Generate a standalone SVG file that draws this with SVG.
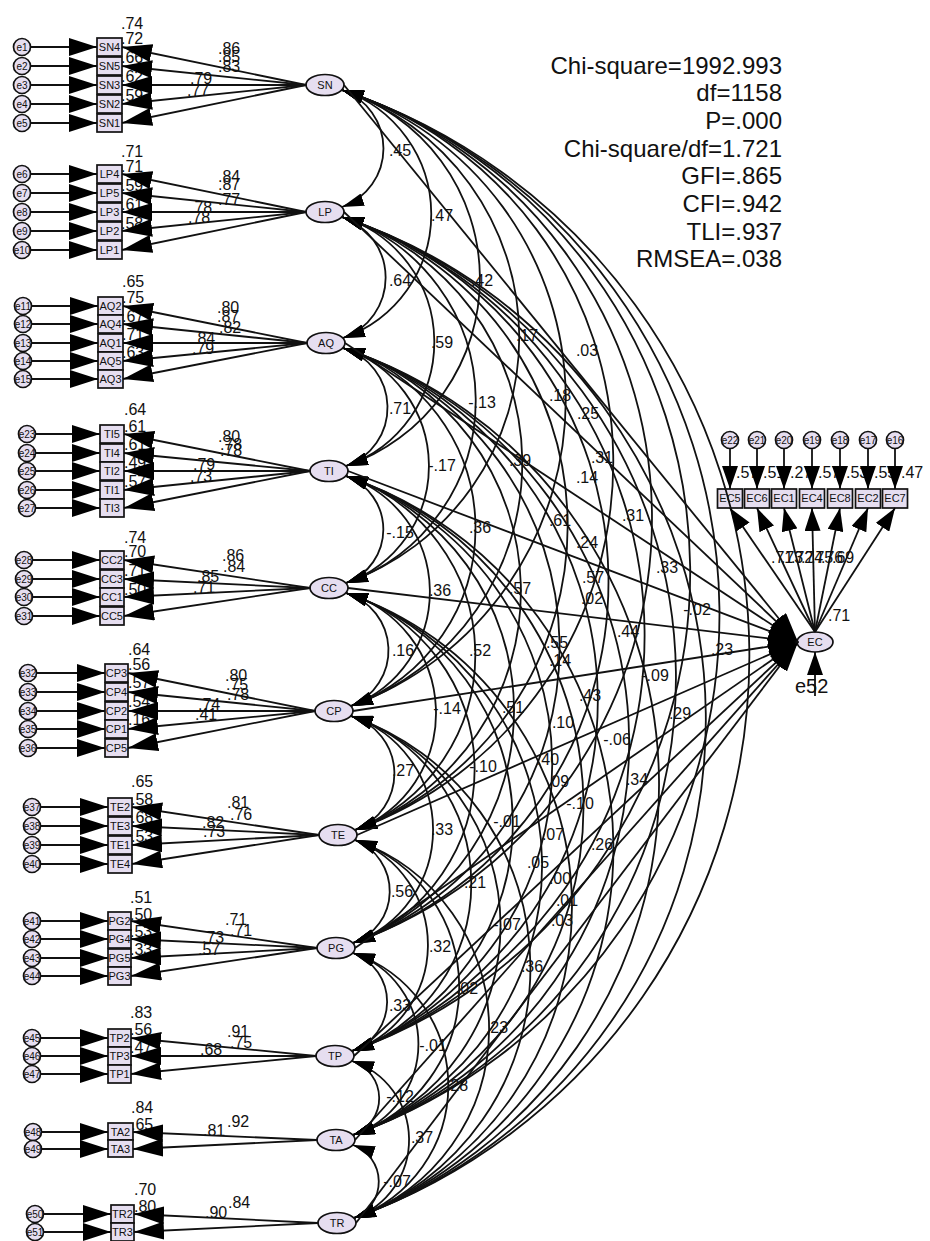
<svg xmlns="http://www.w3.org/2000/svg" width="930" height="1241" viewBox="0 0 930 1241">
<style>
.n{fill:#E6DEF0;stroke:#111;stroke-width:1.7}
text{font-family:"Liberation Sans",Arial,sans-serif;fill:#111}
.nl{font-size:11px;text-anchor:middle}
.el{font-size:10px;text-anchor:middle}
.v{font-size:16px}
.m{font-size:16px;text-anchor:middle}
.fit{font-size:24px;text-anchor:end}
.ln{fill:none;stroke:#111;stroke-width:1.8}
.hd{fill:#000;stroke:none}
</style>
<defs>
<marker id="ai" markerUnits="userSpaceOnUse" markerWidth="28" markerHeight="18" refX="28" refY="9" orient="auto"><path class="hd" d="M0,0L28,9L0,18z"/></marker>
<marker id="af" markerUnits="userSpaceOnUse" markerWidth="30" markerHeight="18" refX="30" refY="9" orient="auto"><path class="hd" d="M0,0L30,9L0,18z"/></marker>
<marker id="ac" markerUnits="userSpaceOnUse" markerWidth="22" markerHeight="13" refX="22" refY="6.5" orient="auto-start-reverse"><path class="hd" d="M0,0L22,6.5L0,13z"/></marker>
<marker id="ae" markerUnits="userSpaceOnUse" markerWidth="30" markerHeight="18" refX="30" refY="9" orient="auto"><path class="hd" d="M0,0L30,9L0,18z"/></marker>
<marker id="av" markerUnits="userSpaceOnUse" markerWidth="23" markerHeight="16" refX="23" refY="8" orient="auto"><path class="hd" d="M0,0L23,8L0,16z"/></marker>
</defs>
<rect width="930" height="1241" fill="#fff"/>

<g id="fit-indices">
<text class="fit" x="782" y="74">Chi-square=1992.993</text>
<text class="fit" x="782" y="101">df=1158</text>
<text class="fit" x="782" y="129">P=.000</text>
<text class="fit" x="782" y="157">Chi-square/df=1.721</text>
<text class="fit" x="782" y="184">GFI=.865</text>
<text class="fit" x="782" y="212">CFI=.942</text>
<text class="fit" x="782" y="240">TLI=.937</text>
<text class="fit" x="782" y="267">RMSEA=.038</text>
</g>

<g id="smc-labels" class="v">
<text x="121" y="29">.74</text><text x="121" y="44">.72</text><text x="121" y="63">.66</text><text x="121" y="82">.62</text><text x="121" y="101">.59</text>
<text x="121" y="157">.71</text><text x="121" y="172">.71</text><text x="121" y="191">.59</text><text x="121" y="210">.61</text><text x="121" y="229">.58</text>
<text x="122" y="287">.65</text><text x="122" y="303">.75</text><text x="122" y="322">.67</text><text x="122" y="340">.71</text><text x="122" y="358">.63</text>
<text x="124" y="415">.64</text><text x="124" y="432">.61</text><text x="124" y="450">.61</text><text x="124" y="468">.49</text><text x="124" y="487">.57</text>
<text x="124" y="543">.74</text><text x="124" y="557">.70</text><text x="124" y="576">.71</text><text x="124" y="595">.50</text>
<text x="128" y="655">.64</text><text x="128" y="670">.56</text><text x="128" y="688">.57</text><text x="128" y="707">.54</text><text x="128" y="725">.16</text>
<text x="131" y="787">.65</text><text x="131" y="805">.58</text><text x="131" y="823">.68</text><text x="131" y="842">.53</text>
<text x="130" y="903">.51</text><text x="130" y="920">.50</text><text x="130" y="937">.53</text><text x="130" y="955">.33</text>
<text x="130" y="1018">.83</text><text x="130" y="1035">.56</text><text x="130" y="1053">.47</text>
<text x="131" y="1113">.84</text><text x="131" y="1130">.65</text>
<text x="134" y="1195">.70</text><text x="134" y="1212">.80</text>
<text x="736" y="478">.57</text><text x="763" y="478">.51</text><text x="790" y="478">.27</text><text x="818" y="478">.57</text><text x="846" y="478">.53</text><text x="874" y="478">.55</text><text x="901" y="478">.47</text>
</g>

<g id="nodes">
<g id="SN"><ellipse class="n" cx="325" cy="85" rx="19" ry="10.5"/><text class="nl" x="325" y="89">SN</text></g>
<g id="LP"><ellipse class="n" cx="325" cy="212" rx="19" ry="10.5"/><text class="nl" x="325" y="216">LP</text></g>
<g id="AQ"><ellipse class="n" cx="326" cy="343" rx="19" ry="10.5"/><text class="nl" x="326" y="347">AQ</text></g>
<g id="TI"><ellipse class="n" cx="329" cy="471" rx="19" ry="10.5"/><text class="nl" x="329" y="475">TI</text></g>
<g id="CC"><ellipse class="n" cx="329" cy="588" rx="19" ry="10.5"/><text class="nl" x="329" y="592">CC</text></g>
<g id="CP"><ellipse class="n" cx="334" cy="711" rx="19" ry="10.5"/><text class="nl" x="334" y="715">CP</text></g>
<g id="TE"><ellipse class="n" cx="338" cy="835" rx="19" ry="10.5"/><text class="nl" x="338" y="839">TE</text></g>
<g id="PG"><ellipse class="n" cx="336" cy="948" rx="19" ry="10.5"/><text class="nl" x="336" y="952">PG</text></g>
<g id="TP"><ellipse class="n" cx="335" cy="1056" rx="19" ry="10.5"/><text class="nl" x="335" y="1060">TP</text></g>
<g id="TA"><ellipse class="n" cx="336" cy="1140" rx="19" ry="10.5"/><text class="nl" x="336" y="1144">TA</text></g>
<g id="TR"><ellipse class="n" cx="337" cy="1223" rx="19" ry="10.5"/><text class="nl" x="337" y="1227">TR</text></g>
<g id="EC"><ellipse class="n" cx="815" cy="642" rx="18" ry="10"/><text class="nl" x="815" y="646">EC</text></g>

<g id="SN4"><rect class="n" x="97" y="38" width="25" height="18"/><text class="nl" x="109.5" y="51">SN4</text></g>
<g id="SN5"><rect class="n" x="97" y="57" width="25" height="18"/><text class="nl" x="109.5" y="70">SN5</text></g>
<g id="SN3"><rect class="n" x="97" y="76" width="25" height="18"/><text class="nl" x="109.5" y="89">SN3</text></g>
<g id="SN2"><rect class="n" x="97" y="95" width="25" height="18"/><text class="nl" x="109.5" y="108">SN2</text></g>
<g id="SN1"><rect class="n" x="97" y="114" width="25" height="18"/><text class="nl" x="109.5" y="127">SN1</text></g>
<g id="LP4"><rect class="n" x="97" y="165" width="25" height="18"/><text class="nl" x="109.5" y="178">LP4</text></g>
<g id="LP5"><rect class="n" x="97" y="184" width="25" height="18"/><text class="nl" x="109.5" y="197">LP5</text></g>
<g id="LP3"><rect class="n" x="97" y="203" width="25" height="18"/><text class="nl" x="109.5" y="216">LP3</text></g>
<g id="LP2"><rect class="n" x="97" y="222" width="25" height="18"/><text class="nl" x="109.5" y="235">LP2</text></g>
<g id="LP1"><rect class="n" x="97" y="241" width="25" height="18"/><text class="nl" x="109.5" y="254">LP1</text></g>
<g id="AQ2"><rect class="n" x="98" y="297" width="25" height="18"/><text class="nl" x="110.5" y="310">AQ2</text></g>
<g id="AQ4"><rect class="n" x="98" y="315" width="25" height="18"/><text class="nl" x="110.5" y="328">AQ4</text></g>
<g id="AQ1"><rect class="n" x="98" y="334" width="25" height="18"/><text class="nl" x="110.5" y="347">AQ1</text></g>
<g id="AQ5"><rect class="n" x="98" y="352" width="25" height="18"/><text class="nl" x="110.5" y="365">AQ5</text></g>
<g id="AQ3"><rect class="n" x="98" y="370" width="25" height="18"/><text class="nl" x="110.5" y="383">AQ3</text></g>
<g id="TI5"><rect class="n" x="100" y="425" width="24" height="18"/><text class="nl" x="112" y="438">TI5</text></g>
<g id="TI4"><rect class="n" x="100" y="444" width="24" height="18"/><text class="nl" x="112" y="457">TI4</text></g>
<g id="TI2"><rect class="n" x="100" y="462" width="24" height="18"/><text class="nl" x="112" y="475">TI2</text></g>
<g id="TI1"><rect class="n" x="100" y="481" width="24" height="18"/><text class="nl" x="112" y="494">TI1</text></g>
<g id="TI3"><rect class="n" x="100" y="499" width="24" height="18"/><text class="nl" x="112" y="512">TI3</text></g>
<g id="CC2"><rect class="n" x="100" y="551" width="24" height="18"/><text class="nl" x="112" y="564">CC2</text></g>
<g id="CC3"><rect class="n" x="100" y="570" width="24" height="18"/><text class="nl" x="112" y="583">CC3</text></g>
<g id="CC1"><rect class="n" x="100" y="588" width="24" height="18"/><text class="nl" x="112" y="601">CC1</text></g>
<g id="CC5"><rect class="n" x="100" y="607" width="24" height="18"/><text class="nl" x="112" y="620">CC5</text></g>
<g id="CP3"><rect class="n" x="105" y="664" width="23" height="18"/><text class="nl" x="116.5" y="677">CP3</text></g>
<g id="CP4"><rect class="n" x="105" y="683" width="23" height="18"/><text class="nl" x="116.5" y="696">CP4</text></g>
<g id="CP2"><rect class="n" x="105" y="702" width="23" height="18"/><text class="nl" x="116.5" y="715">CP2</text></g>
<g id="CP1"><rect class="n" x="105" y="720" width="23" height="18"/><text class="nl" x="116.5" y="733">CP1</text></g>
<g id="CP5"><rect class="n" x="105" y="739" width="23" height="18"/><text class="nl" x="116.5" y="752">CP5</text></g>
<g id="TE2"><rect class="n" x="108" y="798" width="24" height="18"/><text class="nl" x="120" y="811">TE2</text></g>
<g id="TE3"><rect class="n" x="108" y="817" width="24" height="18"/><text class="nl" x="120" y="830">TE3</text></g>
<g id="TE1"><rect class="n" x="108" y="836" width="24" height="18"/><text class="nl" x="120" y="849">TE1</text></g>
<g id="TE4"><rect class="n" x="108" y="855" width="24" height="18"/><text class="nl" x="120" y="868">TE4</text></g>
<g id="PG2"><rect class="n" x="108" y="912" width="23" height="18"/><text class="nl" x="119.5" y="925">PG2</text></g>
<g id="PG4"><rect class="n" x="108" y="930" width="23" height="18"/><text class="nl" x="119.5" y="943">PG4</text></g>
<g id="PG5"><rect class="n" x="108" y="949" width="23" height="18"/><text class="nl" x="119.5" y="962">PG5</text></g>
<g id="PG3"><rect class="n" x="108" y="967" width="23" height="18"/><text class="nl" x="119.5" y="980">PG3</text></g>
<g id="TP2"><rect class="n" x="108" y="1029" width="23" height="18"/><text class="nl" x="119.5" y="1042">TP2</text></g>
<g id="TP3"><rect class="n" x="108" y="1047" width="23" height="18"/><text class="nl" x="119.5" y="1060">TP3</text></g>
<g id="TP1"><rect class="n" x="108" y="1065" width="23" height="18"/><text class="nl" x="119.5" y="1078">TP1</text></g>
<g id="TA2"><rect class="n" x="108" y="1123" width="25" height="17"/><text class="nl" x="120.5" y="1136">TA2</text></g>
<g id="TA3"><rect class="n" x="108" y="1140" width="25" height="17"/><text class="nl" x="120.5" y="1153">TA3</text></g>
<g id="TR2"><rect class="n" x="111" y="1205" width="23" height="18"/><text class="nl" x="122.5" y="1218">TR2</text></g>
<g id="TR3"><rect class="n" x="111" y="1223" width="23" height="18"/><text class="nl" x="122.5" y="1236">TR3</text></g>

<g id="EC5"><rect class="n" x="717.5" y="489" width="25" height="19"/><text class="nl" x="730" y="502">EC5</text></g>
<g id="EC6"><rect class="n" x="744.5" y="489" width="25" height="19"/><text class="nl" x="757" y="502">EC6</text></g>
<g id="EC1"><rect class="n" x="771.5" y="489" width="25" height="19"/><text class="nl" x="784" y="502">EC1</text></g>
<g id="EC4"><rect class="n" x="799.5" y="489" width="25" height="19"/><text class="nl" x="812" y="502">EC4</text></g>
<g id="EC8"><rect class="n" x="827.5" y="489" width="25" height="19"/><text class="nl" x="840" y="502">EC8</text></g>
<g id="EC2"><rect class="n" x="855.5" y="489" width="25" height="19"/><text class="nl" x="868" y="502">EC2</text></g>
<g id="EC7"><rect class="n" x="882.5" y="489" width="25" height="19"/><text class="nl" x="895" y="502">EC7</text></g>

<g id="e1"><circle class="n" cx="22" cy="47" r="8.5"/><text class="el" x="22" y="50.5">e1</text></g>
<g id="e2"><circle class="n" cx="22" cy="66" r="8.5"/><text class="el" x="22" y="69.5">e2</text></g>
<g id="e3"><circle class="n" cx="22" cy="85" r="8.5"/><text class="el" x="22" y="88.5">e3</text></g>
<g id="e4"><circle class="n" cx="22" cy="104" r="8.5"/><text class="el" x="22" y="107.5">e4</text></g>
<g id="e5"><circle class="n" cx="22" cy="123" r="8.5"/><text class="el" x="22" y="126.5">e5</text></g>
<g id="e6"><circle class="n" cx="22" cy="174" r="8.5"/><text class="el" x="22" y="177.5">e6</text></g>
<g id="e7"><circle class="n" cx="22" cy="193" r="8.5"/><text class="el" x="22" y="196.5">e7</text></g>
<g id="e8"><circle class="n" cx="22" cy="212" r="8.5"/><text class="el" x="22" y="215.5">e8</text></g>
<g id="e9"><circle class="n" cx="22" cy="231" r="8.5"/><text class="el" x="22" y="234.5">e9</text></g>
<g id="e10"><circle class="n" cx="22" cy="250" r="8.5"/><text class="el" x="22" y="253.5">e10</text></g>
<g id="e11"><circle class="n" cx="23" cy="306" r="8.5"/><text class="el" x="23" y="309.5">e11</text></g>
<g id="e12"><circle class="n" cx="23" cy="324" r="8.5"/><text class="el" x="23" y="327.5">e12</text></g>
<g id="e13"><circle class="n" cx="23" cy="343" r="8.5"/><text class="el" x="23" y="346.5">e13</text></g>
<g id="e14"><circle class="n" cx="23" cy="361" r="8.5"/><text class="el" x="23" y="364.5">e14</text></g>
<g id="e15"><circle class="n" cx="23" cy="379" r="8.5"/><text class="el" x="23" y="382.5">e15</text></g>
<g id="e23"><circle class="n" cx="27" cy="434" r="8.5"/><text class="el" x="27" y="437.5">e23</text></g>
<g id="e24"><circle class="n" cx="27" cy="453" r="8.5"/><text class="el" x="27" y="456.5">e24</text></g>
<g id="e25"><circle class="n" cx="27" cy="471" r="8.5"/><text class="el" x="27" y="474.5">e25</text></g>
<g id="e26"><circle class="n" cx="27" cy="490" r="8.5"/><text class="el" x="27" y="493.5">e26</text></g>
<g id="e27"><circle class="n" cx="27" cy="508" r="8.5"/><text class="el" x="27" y="511.5">e27</text></g>
<g id="e28"><circle class="n" cx="24" cy="560" r="8.5"/><text class="el" x="24" y="563.5">e28</text></g>
<g id="e29"><circle class="n" cx="24" cy="579" r="8.5"/><text class="el" x="24" y="582.5">e29</text></g>
<g id="e30"><circle class="n" cx="24" cy="597" r="8.5"/><text class="el" x="24" y="600.5">e30</text></g>
<g id="e31"><circle class="n" cx="24" cy="616" r="8.5"/><text class="el" x="24" y="619.5">e31</text></g>
<g id="e32"><circle class="n" cx="28" cy="673" r="8.5"/><text class="el" x="28" y="676.5">e32</text></g>
<g id="e33"><circle class="n" cx="28" cy="692" r="8.5"/><text class="el" x="28" y="695.5">e33</text></g>
<g id="e34"><circle class="n" cx="28" cy="711" r="8.5"/><text class="el" x="28" y="714.5">e34</text></g>
<g id="e35"><circle class="n" cx="28" cy="729" r="8.5"/><text class="el" x="28" y="732.5">e35</text></g>
<g id="e36"><circle class="n" cx="28" cy="748" r="8.5"/><text class="el" x="28" y="751.5">e36</text></g>
<g id="e37"><circle class="n" cx="32" cy="807" r="8.5"/><text class="el" x="32" y="810.5">e37</text></g>
<g id="e38"><circle class="n" cx="32" cy="826" r="8.5"/><text class="el" x="32" y="829.5">e38</text></g>
<g id="e39"><circle class="n" cx="32" cy="845" r="8.5"/><text class="el" x="32" y="848.5">e39</text></g>
<g id="e40"><circle class="n" cx="32" cy="864" r="8.5"/><text class="el" x="32" y="867.5">e40</text></g>
<g id="e41"><circle class="n" cx="32" cy="921" r="8.5"/><text class="el" x="32" y="924.5">e41</text></g>
<g id="e42"><circle class="n" cx="32" cy="939" r="8.5"/><text class="el" x="32" y="942.5">e42</text></g>
<g id="e43"><circle class="n" cx="32" cy="958" r="8.5"/><text class="el" x="32" y="961.5">e43</text></g>
<g id="e44"><circle class="n" cx="32" cy="976" r="8.5"/><text class="el" x="32" y="979.5">e44</text></g>
<g id="e45"><circle class="n" cx="32" cy="1038" r="8.5"/><text class="el" x="32" y="1041.5">e45</text></g>
<g id="e46"><circle class="n" cx="32" cy="1056" r="8.5"/><text class="el" x="32" y="1059.5">e46</text></g>
<g id="e47"><circle class="n" cx="32" cy="1074" r="8.5"/><text class="el" x="32" y="1077.5">e47</text></g>
<g id="e48"><circle class="n" cx="33" cy="1132" r="8.5"/><text class="el" x="33" y="1135.5">e48</text></g>
<g id="e49"><circle class="n" cx="33" cy="1149" r="8.5"/><text class="el" x="33" y="1152.5">e49</text></g>
<g id="e50"><circle class="n" cx="35" cy="1214" r="8.5"/><text class="el" x="35" y="1217.5">e50</text></g>
<g id="e51"><circle class="n" cx="35" cy="1232" r="8.5"/><text class="el" x="35" y="1235.5">e51</text></g>
<g id="e22"><circle class="n" cx="730" cy="440" r="8.5"/><text class="el" x="730" y="443.5">e22</text></g>
<g id="e21"><circle class="n" cx="757" cy="440" r="8.5"/><text class="el" x="757" y="443.5">e21</text></g>
<g id="e20"><circle class="n" cx="784" cy="440" r="8.5"/><text class="el" x="784" y="443.5">e20</text></g>
<g id="e19"><circle class="n" cx="812" cy="440" r="8.5"/><text class="el" x="812" y="443.5">e19</text></g>
<g id="e18"><circle class="n" cx="840" cy="440" r="8.5"/><text class="el" x="840" y="443.5">e18</text></g>
<g id="e17"><circle class="n" cx="868" cy="440" r="8.5"/><text class="el" x="868" y="443.5">e17</text></g>
<g id="e16"><circle class="n" cx="895" cy="440" r="8.5"/><text class="el" x="895" y="443.5">e16</text></g>
<g id="e52"><text x="795" y="693" font-size="20">e52</text></g>
</g>

<g id="connectors" class="ln">
<g marker-end="url(#ai)">
<path d="M30.5 47H97"/><path d="M30.5 66H97"/><path d="M30.5 85H97"/><path d="M30.5 104H97"/><path d="M30.5 123H97"/>
<path d="M30.5 174H97"/><path d="M30.5 193H97"/><path d="M30.5 212H97"/><path d="M30.5 231H97"/><path d="M30.5 250H97"/>
<path d="M31.5 306H98"/><path d="M31.5 324H98"/><path d="M31.5 343H98"/><path d="M31.5 361H98"/><path d="M31.5 379H98"/>
<path d="M35.5 434H100"/><path d="M35.5 453H100"/><path d="M35.5 471H100"/><path d="M35.5 490H100"/><path d="M35.5 508H100"/>
<path d="M32.5 560H100"/><path d="M32.5 579H100"/><path d="M32.5 597H100"/><path d="M32.5 616H100"/>
<path d="M36.5 673H105"/><path d="M36.5 692H105"/><path d="M36.5 711H105"/><path d="M36.5 729H105"/><path d="M36.5 748H105"/>
<path d="M40.5 807H108"/><path d="M40.5 826H108"/><path d="M40.5 845H108"/><path d="M40.5 864H108"/>
<path d="M40.5 921H108"/><path d="M40.5 939H108"/><path d="M40.5 958H108"/><path d="M40.5 976H108"/>
<path d="M40.5 1038H108"/><path d="M40.5 1056H108"/><path d="M40.5 1074H108"/>
<path d="M41.5 1132H108"/><path d="M41.5 1149H108"/>
<path d="M43.5 1214H111"/><path d="M43.5 1232H111"/>
</g>
<g marker-end="url(#af)">
<path d="M306 85L122 47"/><path d="M306 85L122 66"/><path d="M306 85L122 85"/><path d="M306 85L122 104"/><path d="M306 85L122 123"/>
<path d="M306 212L122 174"/><path d="M306 212L122 193"/><path d="M306 212L122 212"/><path d="M306 212L122 231"/><path d="M306 212L122 250"/>
<path d="M307 343L123 306"/><path d="M307 343L123 324"/><path d="M307 343L123 343"/><path d="M307 343L123 361"/><path d="M307 343L123 379"/>
<path d="M310 471L124 434"/><path d="M310 471L124 453"/><path d="M310 471L124 471"/><path d="M310 471L124 490"/><path d="M310 471L124 508"/>
<path d="M310 588L124 560"/><path d="M310 588L124 579"/><path d="M310 588L124 597"/><path d="M310 588L124 616"/>
<path d="M315 711L128 673"/><path d="M315 711L128 692"/><path d="M315 711L128 711"/><path d="M315 711L128 729"/><path d="M315 711L128 748"/>
<path d="M319 835L132 807"/><path d="M319 835L132 826"/><path d="M319 835L132 845"/><path d="M319 835L132 864"/>
<path d="M317 948L131 921"/><path d="M317 948L131 939"/><path d="M317 948L131 958"/><path d="M317 948L131 976"/>
<path d="M316 1056L131 1038"/><path d="M316 1056L131 1056"/><path d="M316 1056L131 1074"/>
<path d="M317 1140L133 1132"/><path d="M317 1140L133 1149"/>
<path d="M318 1223L134 1214"/><path d="M318 1223L134 1232"/>
</g>
<g marker-start="url(#ac)" marker-end="url(#ac)">
<path d="M342 90A62 62 0 0 1 342 207"/>
<path d="M342 90A131 131 0 0 1 343 338"/>
<path d="M342 90A198 198 0 0 1 346 466"/>
<path d="M342 90A261 261 0 0 1 346 583"/>
<path d="M342 90A326 326 0 0 1 351 706"/>
<path d="M342 90A391 391 0 0 1 355 830"/>
<path d="M342 90A451 451 0 0 1 353 943"/>
<path d="M342 90A508 508 0 0 1 352 1051"/>
<path d="M342 90A553 553 0 0 1 353 1135"/>
<path d="M342 90A597 597 0 0 1 354 1218"/>
<path d="M342 217A64 64 0 0 1 343 338"/>
<path d="M342 217A131 131 0 0 1 346 466"/>
<path d="M342 217A193 193 0 0 1 346 583"/>
<path d="M342 217A258 258 0 0 1 351 706"/>
<path d="M342 217A324 324 0 0 1 355 830"/>
<path d="M342 217A383 383 0 0 1 353 943"/>
<path d="M342 217A441 441 0 0 1 352 1051"/>
<path d="M342 217A485 485 0 0 1 353 1135"/>
<path d="M342 217A529 529 0 0 1 354 1218"/>
<path d="M343 348A62 62 0 0 1 346 466"/>
<path d="M343 348A124 124 0 0 1 346 583"/>
<path d="M343 348A189 189 0 0 1 351 706"/>
<path d="M343 348A255 255 0 0 1 355 830"/>
<path d="M343 348A315 315 0 0 1 353 943"/>
<path d="M343 348A372 372 0 0 1 352 1051"/>
<path d="M343 348A416 416 0 0 1 353 1135"/>
<path d="M343 348A460 460 0 0 1 354 1218"/>
<path d="M346 476A57 57 0 0 1 346 583"/>
<path d="M346 476A122 122 0 0 1 351 706"/>
<path d="M346 476A188 188 0 0 1 355 830"/>
<path d="M346 476A248 248 0 0 1 353 943"/>
<path d="M346 476A305 305 0 0 1 352 1051"/>
<path d="M346 476A349 349 0 0 1 353 1135"/>
<path d="M346 476A393 393 0 0 1 354 1218"/>
<path d="M346 593A60 60 0 0 1 351 706"/>
<path d="M346 593A125 125 0 0 1 355 830"/>
<path d="M346 593A185 185 0 0 1 353 943"/>
<path d="M346 593A242 242 0 0 1 352 1051"/>
<path d="M346 593A287 287 0 0 1 353 1135"/>
<path d="M346 593A331 331 0 0 1 354 1218"/>
<path d="M351 716A60 60 0 0 1 355 830"/>
<path d="M351 716A120 120 0 0 1 353 943"/>
<path d="M351 716A177 177 0 0 1 352 1051"/>
<path d="M351 716A222 222 0 0 1 353 1135"/>
<path d="M351 716A266 266 0 0 1 354 1218"/>
<path d="M355 840A55 55 0 0 1 353 943"/>
<path d="M355 840A112 112 0 0 1 352 1051"/>
<path d="M355 840A156 156 0 0 1 353 1135"/>
<path d="M355 840A200 200 0 0 1 354 1218"/>
<path d="M353 953A52 52 0 0 1 352 1051"/>
<path d="M353 953A96 96 0 0 1 353 1135"/>
<path d="M353 953A140 140 0 0 1 354 1218"/>
<path d="M352 1061A39 39 0 0 1 353 1135"/>
<path d="M352 1061A83 83 0 0 1 354 1218"/>
<path d="M353 1145A39 39 0 0 1 354 1218"/>
</g>
<g marker-end="url(#ae)">
<path d="M344 85L798 642"/>
<path d="M344 212L798 642"/>
<path d="M345 343L798 642"/>
<path d="M348 471L798 642"/>
<path d="M348 588L798 642"/>
<path d="M353 711L798 642"/>
<path d="M357 835L798 642"/>
<path d="M355 948L798 642"/>
<path d="M354 1056L798 642"/>
<path d="M355 1140L798 642"/>
<path d="M356 1223L798 642"/>
</g>
<g marker-end="url(#av)">
<path d="M730 448.5V489"/><path d="M757 448.5V489"/><path d="M784 448.5V489"/><path d="M812 448.5V489"/><path d="M840 448.5V489"/><path d="M868 448.5V489"/><path d="M895 448.5V489"/>
<path d="M815 632L730 508"/><path d="M815 632L757 508"/><path d="M815 632L784 508"/><path d="M815 632L812 508"/><path d="M815 632L840 508"/><path d="M815 632L868 508"/><path d="M815 632L895 508"/>
<path d="M815 696V652"/>
</g>
</g>

<g id="estimates">
<g class="v">
<text x="218" y="54">.86</text><text x="218" y="62">.85</text><text x="218" y="72">.83</text><text x="190" y="84">.79</text><text x="187" y="96">.77</text>
<text x="218" y="182">.84</text><text x="218" y="190">.87</text><text x="218" y="205">.77</text><text x="190" y="213">.78</text><text x="188" y="223">.78</text>
<text x="217" y="313">.80</text><text x="217" y="322">.87</text><text x="219" y="333">.82</text><text x="193" y="344">.84</text><text x="192" y="354">.79</text>
<text x="218" y="442">.80</text><text x="220" y="450">.78</text><text x="220" y="456">.78</text><text x="193" y="470">.79</text><text x="190" y="482">.73</text>
<text x="222" y="561">.86</text><text x="223" y="572">.84</text><text x="197" y="582">.85</text><text x="193" y="593">.71</text>
<text x="225" y="681">.80</text><text x="226" y="690">.75</text><text x="227" y="700">.78</text><text x="198" y="710">.74</text><text x="195" y="720">.41</text>
<text x="227" y="808">.81</text><text x="230" y="820">.76</text><text x="202" y="828">.82</text><text x="203" y="837">.73</text>
<text x="225" y="925">.71</text><text x="230" y="936">.71</text><text x="202" y="943">.73</text><text x="198" y="955">.57</text>
<text x="227" y="1037">.91</text><text x="230" y="1048">.75</text><text x="200" y="1055">.68</text>
<text x="227" y="1127">.92</text><text x="203" y="1136">.81</text>
<text x="228" y="1208">.84</text><text x="205" y="1218">.90</text>
<text x="771" y="563">.71</text><text x="781" y="563">.73</text><text x="791" y="563">.72</text><text x="801" y="563">.74</text><text x="811" y="563">.75</text><text x="821" y="563">.76</text><text x="832" y="563">.69</text>
<text x="828" y="621">.71</text>
</g>
<g class="m">
<text x="400" y="156">.45</text><text x="442" y="221">.47</text><text x="400" y="286">.64</text><text x="482" y="286">.42</text>
<text x="527" y="341">.17</text><text x="587" y="356">.03</text><text x="442" y="348">.59</text><text x="400" y="414">.71</text>
<text x="482" y="408">-.13</text><text x="560" y="401">.18</text><text x="588" y="419">.25</text><text x="442" y="471">-.17</text>
<text x="520" y="466">.39</text><text x="602" y="463">.31</text><text x="587" y="483">.14</text><text x="400" y="538">-.15</text>
<text x="480" y="533">.36</text><text x="560" y="526">.61</text><text x="587" y="548">.24</text><text x="633" y="521">.31</text>
<text x="667" y="573">.33</text><text x="440" y="596">.36</text><text x="520" y="594">.57</text><text x="593" y="583">.57</text>
<text x="592" y="604">.02</text><text x="697" y="615">-.02</text><text x="628" y="637">.44</text><text x="722" y="655">.23</text>
<text x="403" y="656">.16</text><text x="480" y="656">.52</text><text x="557" y="648">.55</text><text x="560" y="666">.14</text>
<text x="655" y="681">-.09</text><text x="447" y="714">-.14</text><text x="513" y="713">.51</text><text x="590" y="701">.43</text>
<text x="563" y="728">.10</text><text x="680" y="719">.29</text><text x="617" y="745">-.06</text><text x="403" y="776">.27</text>
<text x="483" y="772">-.10</text><text x="548" y="765">.40</text><text x="558" y="787">.09</text><text x="637" y="785">.34</text>
<text x="580" y="809">-.10</text><text x="507" y="827">-.01</text><text x="553" y="840">.07</text><text x="442" y="835">.33</text>
<text x="602" y="850">.26</text><text x="538" y="868">.05</text><text x="560" y="884">.00</text><text x="475" y="888">.21</text>
<text x="402" y="897">.56</text><text x="567" y="906">.01</text><text x="562" y="926">.03</text><text x="507" y="930">-.07</text>
<text x="440" y="952">.32</text><text x="532" y="972">.36</text><text x="467" y="994">.02</text><text x="400" y="1011">.33</text>
<text x="497" y="1033">.23</text><text x="433" y="1051">-.01</text><text x="457" y="1091">.28</text><text x="400" y="1102">-.12</text>
<text x="422" y="1143">.37</text><text x="397" y="1187">-.07</text>
</g>
</g>
</svg>
